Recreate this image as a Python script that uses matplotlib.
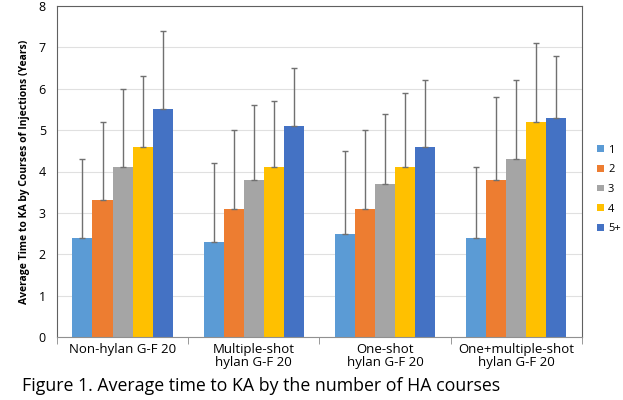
import numpy as np
import matplotlib
matplotlib.use("Agg")
import matplotlib.pyplot as plt

plt.rcParams['font.family'] = ['Open Sans', 'DejaVu Sans']

groups = ['Non-hylan G-F 20', 'Multiple-shot\nhylan G-F 20', 'One-shot\nhylan G-F 20',
          'One+multiple-shot\nhylan G-F 20']
series = ['1', '2', '3', '4', '5+']
colors = ['#5B9BD5', '#ED7D31', '#A5A5A5', '#FFC000', '#4472C4']

# mean time to KA per group (rows = series 1..5+)
means = [
    [2.4, 2.3, 2.5, 2.4],
    [3.3, 3.1, 3.1, 3.8],
    [4.1, 3.8, 3.7, 4.3],
    [4.6, 4.1, 4.1, 5.2],
    [5.5, 5.1, 4.6, 5.3],
]
# upper end of the error bar
tops = [
    [4.3, 4.2, 4.5, 4.1],
    [5.2, 5.0, 5.0, 5.8],
    [6.0, 5.6, 5.4, 6.2],
    [6.3, 5.7, 5.9, 7.1],
    [7.4, 6.5, 6.2, 6.8],
]

fig = plt.figure(figsize=(6.23, 4.0), dpi=100)
ax = fig.add_axes([0.0915, 0.1575, 0.8425, 0.8275])

x = np.arange(len(groups))
w = 0.153
for i, name in enumerate(series):
    pos = x + (i - 2) * w
    m = np.array(means[i])
    err = np.array(tops[i]) - m
    ax.bar(pos, m, w, color=colors[i], label=name, zorder=2)
    ax.errorbar(pos, m, yerr=[np.zeros_like(err), err], fmt='none',
                ecolor='#707070', elinewidth=1, capsize=2.5, capthick=1, zorder=3)

ax.set_xlim(-0.5, len(groups) - 0.5)
ax.set_ylim(0, 8)
ax.set_yticks(range(0, 9))
ax.tick_params(axis='y', length=0, labelsize=9, pad=8)
ax.set_xticks(x)
ax.set_xticklabels(groups, fontsize=9.5, linespacing=1.0)
ax.set_xticks(np.arange(-0.5, len(groups)), minor=True)
ax.tick_params(axis='x', which='major', length=0, pad=4)
ax.tick_params(axis='x', which='minor', length=5, color='#888888')
ax.grid(axis='y', color='#e0e0e0', linewidth=0.8, zorder=0)
for s in ax.spines.values():
    s.set_color('#606060')
    s.set_linewidth(0.8)
ax.spines['bottom'].set_color('#909090')

ax.set_ylabel('Average Time to KA by Courses of Injections (Years)', fontsize=7.5,
              fontweight='bold', labelpad=6)

ax.legend(loc='center left', bbox_to_anchor=(1.0, 0.446), frameon=False, fontsize=8,
          handlelength=0.55, handleheight=0.55, handletextpad=0.4, labelspacing=0.78,
          borderaxespad=1.0)

fig.text(0.035, 0.036, 'Figure 1. Average time to KA by the number of HA courses',
         fontsize=12.8, va='center')

fig.savefig('out.png', dpi=100)
